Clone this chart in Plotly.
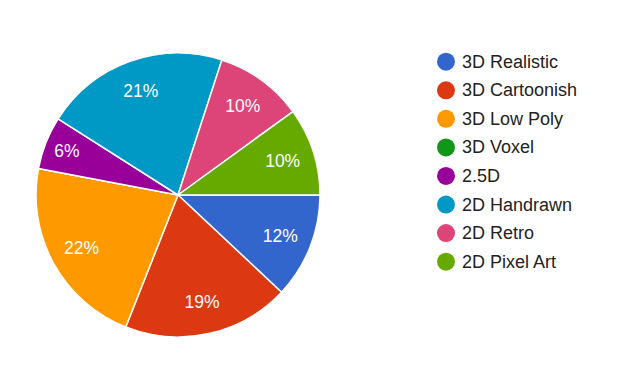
import plotly.graph_objects as go

labels = ["3D Realistic", "3D Cartoonish", "3D Low Poly", "3D Voxel", "2.5D",
          "2D Handrawn", "2D Retro", "2D Pixel Art"]
values = [12, 19, 22, 0, 6, 21, 10, 10]
colors = ["#3366cc", "#dc3912", "#ff9900", "#109618", "#990099",
          "#0099c6", "#dd4477", "#66aa00"]

total = sum(values)
texts = [f"{round(v / total * 100)}%" if v > 0 else "" for v in values]

W, H = 632, 369
OFF = 8  # page body margin offset
FONT = "Liberation Sans, Arial, sans-serif"
domain = dict(x=[(36 - OFF) / W, (320 - OFF) / W],
              y=[1 - (337 - OFF) / H, 1 - (53 - OFF) / H])

fig = go.Figure()
# coloured slices
fig.add_trace(go.Pie(
    labels=labels, values=values, textinfo="none",
    sort=False, direction="clockwise", rotation=90,
    marker=dict(colors=colors, line=dict(color="white", width=1.5)),
    hoverinfo="label+percent", showlegend=False, domain=domain,
))
# transparent ring carrying the percentage labels (places them at ~3/4 radius)
fig.add_trace(go.Pie(
    labels=labels, values=values, text=texts, textinfo="text",
    sort=False, direction="clockwise", rotation=90, hole=0.55,
    marker=dict(colors=["rgba(0,0,0,0)"] * len(values), line=dict(width=0)),
    textposition="inside", insidetextorientation="horizontal",
    textfont=dict(family=FONT, size=17.5, color="white"),
    hoverinfo="skip", showlegend=False, domain=domain,
))

shapes, annotations = [], []
cx, y0, dy, r = 446 - OFF, 61.7 - OFF, 28.57, 9
for i, (lab, col) in enumerate(zip(labels, colors)):
    cy = y0 + i * dy
    shapes.append(dict(type="circle", xref="paper", yref="paper",
                       x0=(cx - r) / W, x1=(cx + r) / W,
                       y0=1 - (cy + r) / H, y1=1 - (cy - r) / H,
                       fillcolor=col, line=dict(width=0)))
    annotations.append(dict(text=lab, xref="paper", yref="paper",
                            x=(460 - OFF) / W, y=1 - cy / H, xanchor="left", yanchor="middle",
                            showarrow=False,
                            font=dict(family=FONT, size=18, color="#222222")))

fig.update_layout(width=W, height=H, margin=dict(l=0, r=0, t=0, b=0),
                  paper_bgcolor="white", plot_bgcolor="white",
                  uniformtext=dict(minsize=17.5, mode="show"),
                  shapes=shapes, annotations=annotations)
fig.write_html("out.html")
